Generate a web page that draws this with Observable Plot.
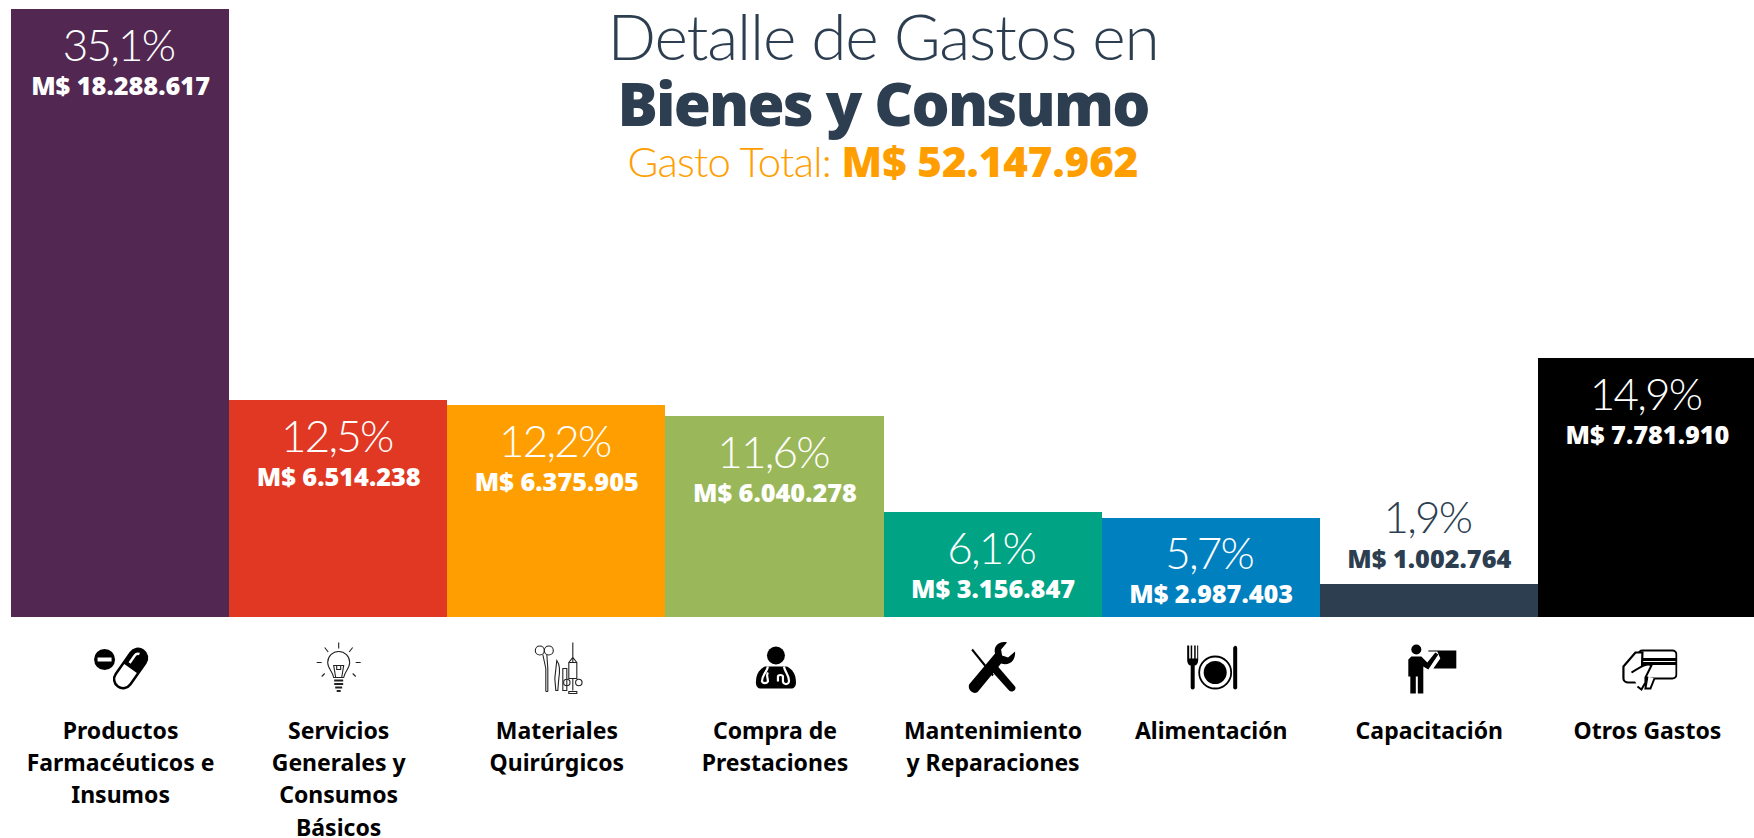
<!DOCTYPE html>
<html lang="es">
<head>
<meta charset="utf-8">
<script src="https://cdn.jsdelivr.net/npm/d3@7"></script>
<script src="https://cdn.jsdelivr.net/npm/@observablehq/plot@0.6"></script>
<style>
html,body{margin:0;padding:0;background:#fff;overflow:hidden}
#wrap{position:relative;width:1754px;height:838px;overflow:hidden}
.t{position:absolute;left:483px;width:800px;text-align:center;white-space:nowrap;font-family:Lato,sans-serif}
#t1{top:-2px;font-size:64px;line-height:76px;font-weight:300;color:#2c3e50;letter-spacing:-1.2px}
#t2{top:65px;font-size:60px;line-height:76px;font-weight:800;color:#2c3e50;font-family:"Open Sans",sans-serif;letter-spacing:-1.8px}
#t3{top:136px;font-size:42px;line-height:50px;font-weight:300;color:#ff9e00;letter-spacing:-.8px}
#t3 b{font-weight:800;font-family:"Open Sans",sans-serif;letter-spacing:0;font-size:42px}
.pct text{letter-spacing:-1.8px}
</style>
</head>
<body>
<div id="wrap">
<div id="chart"></div>
<div class="t" id="t1">Detalle de Gastos en</div>
<div class="t" id="t2">Bienes y Consumo</div>
<div class="t" id="t3">Gasto Total: <b>M$ 52.147.962</b></div>
</div>
<script>
const categories = ["Productos\nFarmacéuticos e\nInsumos","Servicios\nGenerales y\nConsumos\nBásicos","Materiales\nQuirúrgicos","Compra de\nPrestaciones","Mantenimiento\ny Reparaciones","Alimentación","Capacitación","Otros Gastos"];
const values = [18288617,6514238,6375905,6040278,3156847,2987403,1002764,7781910];
const percents = ["35,1%","12,5%","12,2%","11,6%","6,1%","5,7%","1,9%","14,9%"];
const amounts = ["M$ 18.288.617","M$ 6.514.238","M$ 6.375.905","M$ 6.040.278","M$ 3.156.847","M$ 2.987.403","M$ 1.002.764","M$ 7.781.910"];
const barColors = ["#522852","#e03823","#ff9e00","#9ab85a","#00a384","#0080bf","#2c3e50","#000000"];
const icons = [
`<circle cx="14" cy="21" r="10.5"/><rect x="7" y="19" width="14" height="4" fill="#fff"/><g transform="rotate(35 40 30)"><rect x="31" y="8" width="18" height="44" rx="9" fill="#fff" stroke="#000" stroke-width="2.5"/><path d="M31 30V17a9 9 0 0 1 18 0V30Z"/><path d="M36 26V17a4 4 0 0 1 3-4" stroke="#fff" stroke-width="2.5" fill="none"/></g>`,
`<g fill="none" stroke="#222" stroke-width="1.1"><path d="M25 39C24 33 19 30 19 24A11 11 0 1 1 41 24C41 30 36 33 35 39Z"/><path d="M27 39L25 27H35L33 39M28 27V31H32V27"/><path d="M25.500 42H34.500M25.500 45.500H34.500M26.500 49H33.500M28 52.500H32" stroke-width="1.800"/><path d="M30 4V10M16 9L19.500 13.500M44 9L40.500 13.500M8 24H13M47 24H52M13 38L16 35M47 38L44 35"/></g>`,
`<g fill="none" stroke="#222" stroke-width="1.1"><circle cx="13" cy="12" r="4.500"/><circle cx="22" cy="12" r="4.500"/><path d="M16 16L19 30V53M20 16L21 30V53M19 53H21"/><path d="M30 22C33 26 33 34 32 40L31 52H29L28 40Z"/><path d="M36 30H40V52H36Z"/><path d="M46 4V24M42 24H50V40H42ZM42 24L46 19L50 24M46 40V52M42 53H50V55H42Z"/><circle cx="40" cy="44" r="3.200"/><circle cx="52" cy="44" r="3.200"/></g>`,
`<circle cx="31" cy="17" r="9"/><path d="M20 28H42C48 31 51 36 51 44C51 48 49 50 46 50H16C13 50 11 48 11 44C11 36 14 31 20 28Z"/><path d="M23 28C22 34 17 36 17 43A3.500 3.500 0 0 0 23 43C23 39 21 37 23 34M39 28C40 34 44 36 44 42A3 3 0 0 1 38 43V38C38 36 33 36 33 38V43" fill="none" stroke="#fff" stroke-width="2.200"/>`,
`<path d="M9 11L30 37" stroke="#000" stroke-width="2" fill="none"/><path d="M28 32L34 27L52 48C54 51 49 55 46 52Z"/><path d="M6 46L32 15C30 8 36 2 44 4L38 11L39 17L45 19L52 13C53 22 46 28 38 25L15 53C12 57 4 52 6 46Z"/>`,
`<path d="M6 7V22C6 25 8 27 9.500 27V49A2 2 0 0 0 13.500 49V27C15 27 17 25 17 22V7H16V20H14.500V7H13V20H11V7H9.500V20H8V7Z"/><circle cx="34" cy="34" r="16" fill="none" stroke="#000" stroke-width="1.800"/><circle cx="34" cy="34" r="11.500"/><path d="M52 9C54 6 56 7 56 10V49A2 2 0 0 1 52 49Z"/>`,
`<circle cx="17" cy="11" r="5"/><path d="M12 18H22L28 24L36 14L39 16L29 31L24 28V55H18.500V38H16.500V55H11V38H9V21Z"/><path d="M29 12H57V30H34L41 20L38 13H29Z"/>`,
`<g fill="none" stroke="#000" stroke-width="2"><rect x="21" y="12" width="38" height="28" rx="4"/><path d="M21 21H59M21 25H59" stroke-width="3"/></g><path d="M6 28L18 14H25L24 44H11C8 44 6 42 6 40Z" fill="#fff" stroke="#000" stroke-width="2.200"/><path d="M14 34C24 28 30 24 34 27L28 39V44L24 51L20 48M30 38L28 50L33 50L37 40" fill="#fff" stroke="#000" stroke-width="2"/>`
];
const iconUrl = s => "data:image/svg+xml," + encodeURIComponent(`<svg xmlns="http://www.w3.org/2000/svg" width="60" height="60" viewBox="0 0 60 60">${s}</svg>`);
const rows = categories.map((c,i)=>({c,v:values[i],p:percents[i],a:amounts[i],col:barColors[i],ic:iconUrl(icons[i])}));
const inside = rows.filter(d=>d.v>2e6), outside = rows.filter(d=>d.v<=2e6);
const pctFont = {fontFamily:"Lato",fontWeight:300,fontSize:44,lineAnchor:"bottom",textAnchor:"middle",className:"pct",dx:-2};
const amtFont = {fontFamily:"Open Sans",fontWeight:800,fontSize:25.3,lineAnchor:"bottom",textAnchor:"middle"};
const plot = Plot.plot({
  width:1754,height:838,marginTop:9,marginBottom:221,marginLeft:11,marginRight:0,
  style:{background:"transparent",overflow:"visible"},
  x:{domain:categories,padding:0,round:false,range:[11,1756],axis:null},
  y:{domain:[0,18288617],axis:null},
  marks:[
    Plot.barY(rows,{x:"c",y:"v",fill:"col",shapeRendering:"crispEdges"}),
    Plot.text(inside,{x:"c",y:"v",text:"p",fill:"#fff",dy:51,...pctFont}),
    Plot.text(inside,{x:"c",y:"v",text:"a",fill:"#fff",dy:85,...amtFont}),
    Plot.text(outside,{x:"c",y:"v",text:"p",fill:"#2c3e50",dy:-51,...pctFont}),
    Plot.text(outside,{x:"c",y:"v",text:"a",fill:"#2c3e50",dy:-16,...amtFont}),
    Plot.image(rows,{x:"c",src:"ic",frameAnchor:"bottom",dy:51,width:60,height:60}),
    Plot.text(rows,{x:"c",text:"c",frameAnchor:"bottom",dy:98,lineAnchor:"top",lineHeight:1.41,fill:"#000",fontFamily:"Noto Sans",fontWeight:700,fontSize:23})
  ]
});
document.getElementById("chart").append(plot);
</script>
</body>
</html>
